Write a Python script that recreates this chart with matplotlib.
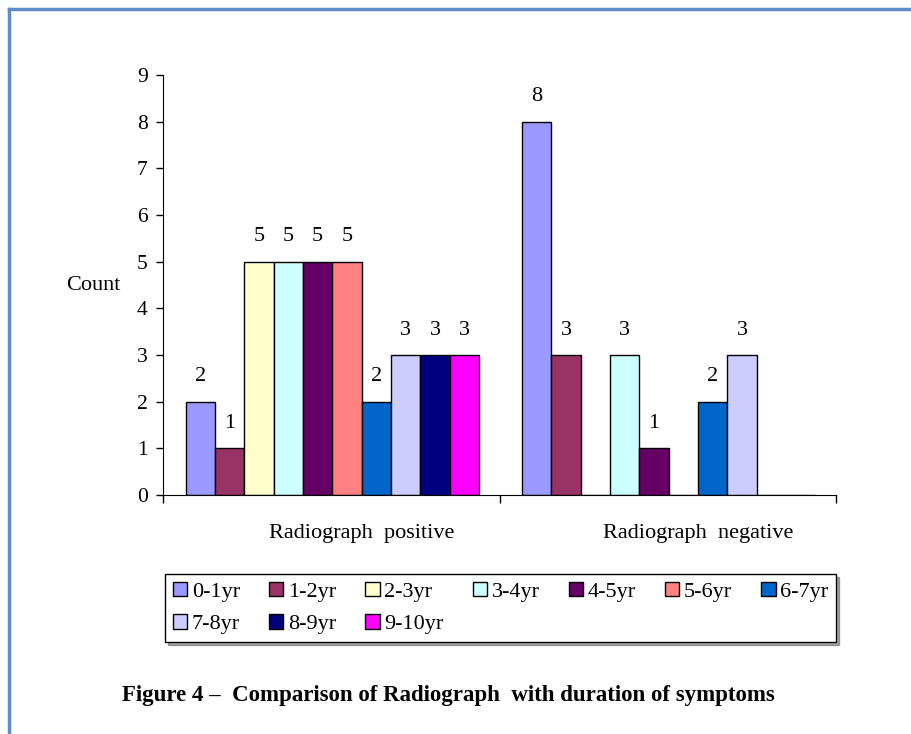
import numpy as np
import matplotlib.pyplot as plt
from matplotlib.lines import Line2D

plt.rcParams['font.family'] = ['Liberation Serif', 'DejaVu Serif']

categories = ["Radiograph  positive", "Radiograph  negative"]
series = ["0-1yr", "1-2yr", "2-3yr", "3-4yr", "4-5yr",
          "5-6yr", "6-7yr", "7-8yr", "8-9yr", "9-10yr"]
positive = [2, 1, 5, 5, 5, 5, 2, 3, 3, 3]
negative = [8, 3, 0, 3, 1, 0, 2, 3, 0, 0]
colors = ["#9999FF", "#993366", "#FFFFCC", "#CCFFFF", "#660066",
          "#FF8080", "#0066CC", "#CCCCFF", "#000080", "#FF00FF"]

fig = plt.figure(figsize=(9.11, 7.34), dpi=100)
ax = fig.add_axes([163/911, 1-495/734, (836-163)/911, (495-75)/734])

n = len(series)
w = 0.872 / n
x = np.arange(len(categories))
handles = []
for i, name in enumerate(series):
    vals = [positive[i], negative[i]]
    pos = x - 0.436 + w * (i + 0.5) + 0.003
    bars = ax.bar(pos, vals, w, color=colors[i], edgecolor="black",
                  linewidth=1.0, label=name)
    handles.append(bars)
    for xp, v in zip(pos, vals):
        if v > 0:
            ax.text(xp, v + 0.33, str(v), ha="center", va="bottom", fontsize=16)

ax.set_xlim(-0.5, 1.5)
ax.set_ylim(0, 9)
ax.set_yticks(range(10))
ax.tick_params(axis="y", labelsize=15.5, length=5, width=1, pad=6)
ax.set_xticks([-0.5, 0.5, 1.5])
ax.set_xticklabels([])
ax.tick_params(axis="x", length=6, width=1)
for s in ["top", "right"]:
    ax.spines[s].set_visible(False)

for i, c in enumerate(categories):
    ax.text(i + 0.09, -0.82, c, ha="center", va="center", fontsize=16)

fig.text(93/911, 1-285/734, "Count", ha="center", va="center", fontsize=16)

# legend filled row by row (7 per row)
order = [0, 7, 1, 8, 2, 9, 3, 4, 5, 6]
leg = fig.legend([handles[k] for k in order], [series[k] for k in order],
                 loc="lower left",
                 bbox_to_anchor=(165/911, 1-642/734, (836-165)/911, 77/734),
                 mode="expand", ncol=7, fontsize=16, frameon=True,
                 fancybox=False, shadow=True, edgecolor="black",
                 handlelength=0.65, handleheight=0.65, handletextpad=0.2,
                 columnspacing=0.8, borderpad=0.35, labelspacing=0.55,
                 borderaxespad=0)
leg.get_frame().set_linewidth(1.0)

fig.text(448/911, 1-695/734,
         "Figure 4 \u2013  Comparison of Radiograph  with duration of symptoms",
         ha="center", va="center", fontsize=16.5, fontweight="bold")

# page border (left and top)
fig.add_artist(Line2D([9/911, 9/911], [0, 1-9/734], color="#5B8BC9",
                      linewidth=2.5, transform=fig.transFigure))
fig.add_artist(Line2D([9/911, 1], [1-9/734, 1-9/734], color="#5B8BC9",
                      linewidth=2.5, transform=fig.transFigure))

fig.savefig("out.png", dpi=100)
